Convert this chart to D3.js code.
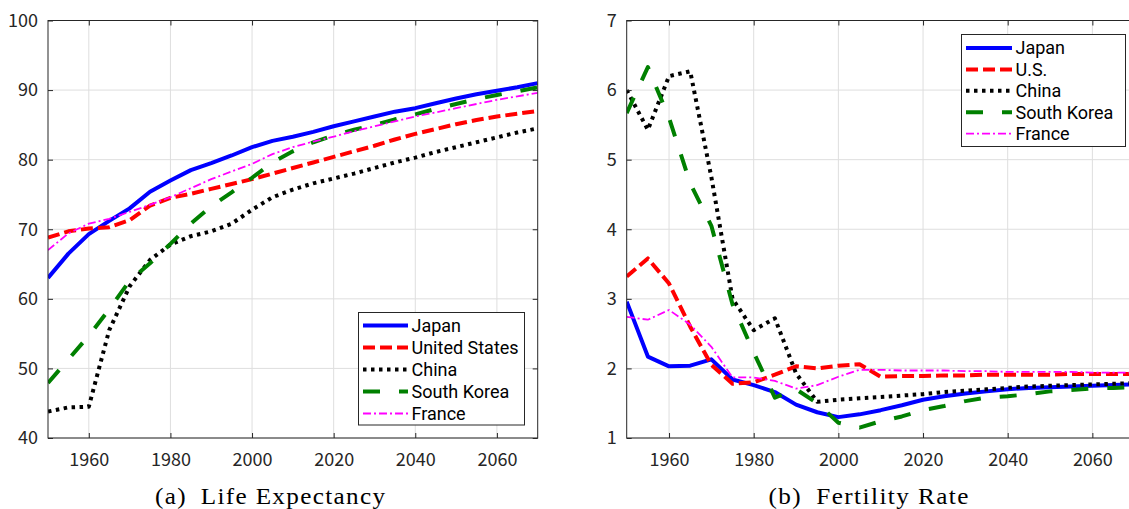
<!DOCTYPE html>
<html><head><meta charset="utf-8">
<script src="https://cdn.jsdelivr.net/npm/d3@7"></script>
<style>body{margin:0;background:#fff}svg{display:block}</style>
</head><body>
<svg id="c" width="1129" height="509"></svg>
<script>
const years = [1950,1955,1960,1965,1970,1975,1980,1985,1990,1995,2000,2005,2010,2015,2020,2025,2030,2035,2040,2045,2050,2055,2060,2065,2070];

const leJapan  = [63.0,66.5,69.3,71.2,73.0,75.4,77.0,78.5,79.5,80.6,81.8,82.7,83.3,84.0,84.8,85.5,86.2,86.9,87.4,88.1,88.8,89.4,89.9,90.4,91.0];
const leUS     = [68.8,69.7,70.1,70.3,71.3,73.4,74.5,75.1,75.8,76.5,77.2,78.0,78.8,79.6,80.4,81.2,82.0,82.9,83.7,84.4,85.1,85.7,86.2,86.6,87.0];
const leChina  = [43.8,44.4,44.5,55.5,61.8,65.6,67.8,69.0,69.7,70.8,72.8,74.6,75.7,76.6,77.3,78.0,78.8,79.6,80.3,81.1,81.8,82.5,83.2,83.9,84.5];
const leKorea  = [47.9,51.3,54.7,58.5,62.6,65.1,67.9,70.8,73.3,75.3,77.4,79.6,81.2,82.5,83.5,84.3,85.0,85.8,86.5,87.3,88.0,88.7,89.3,89.8,90.4];
const leFrance = [67.0,69.4,70.8,71.5,72.5,73.5,74.6,75.9,77.2,78.3,79.4,80.8,81.8,82.6,83.3,84.1,84.8,85.5,86.2,86.8,87.4,88.0,88.6,89.1,89.6];

const frJapan  = [2.96,2.17,2.03,2.04,2.13,1.84,1.76,1.66,1.48,1.37,1.30,1.34,1.40,1.47,1.55,1.60,1.64,1.67,1.70,1.72,1.73,1.74,1.75,1.76,1.77];
const frUS     = [3.32,3.58,3.22,2.60,2.05,1.78,1.80,1.91,2.03,2.00,2.04,2.06,1.88,1.89,1.89,1.90,1.90,1.91,1.91,1.91,1.91,1.92,1.92,1.92,1.92];
const frChina  = [6.00,5.43,6.20,6.27,4.75,3.00,2.55,2.72,1.93,1.52,1.55,1.57,1.59,1.61,1.63,1.66,1.68,1.70,1.72,1.74,1.75,1.76,1.77,1.78,1.79];
const frKorea  = [5.67,6.33,5.60,4.66,4.05,2.92,2.23,1.58,1.70,1.50,1.22,1.15,1.24,1.31,1.40,1.46,1.53,1.58,1.60,1.63,1.67,1.69,1.71,1.72,1.73];
const frFrance = [2.74,2.70,2.84,2.63,2.31,1.87,1.87,1.82,1.71,1.76,1.88,1.98,1.98,1.97,1.97,1.97,1.96,1.96,1.95,1.95,1.95,1.95,1.94,1.94,1.94];

const xTicks = [1960,1980,2000,2020,2040,2060];
const leTicks = [40,50,60,70,80,90,100];
const frTicks = [1,2,3,4,5,6,7];
const legendLeft  = ["Japan","United States","China","South Korea","France"];
const legendRight = ["Japan","U.S.","China","South Korea","France"];
const captionA = "(a)\u2002Life Expectancy";
const captionB = "(b)\u2002Fertility Rate";

const styles = [
  {color:"#0000ff", width:4,   dash:null},
  {color:"#ff0000", width:4,   dash:"12,5"},
  {color:"#000000", width:4,   dash:"3.5,4.5"},
  {color:"#008000", width:4,   dash:"17,19"},
  {color:"#ff00ff", width:1.8, dash:"8,3,2,3"}
];

const svg = d3.select("#c");
const AX = "#262626", GRID = "#dedede";
const FONT = "'Noto Sans CJK JP','Noto Sans',sans-serif";
const LFONT = "Roboto,'Noto Sans',sans-serif";

function panel(cfg, idx){
  const x = d3.scaleLinear().domain([1950,2070]).range([cfg.x0,cfg.x1]);
  const y = d3.scaleLinear().domain(cfg.ydom).range([cfg.yb,cfg.yt]);
  const g = svg.append("g");
  g.selectAll("line.gx").data(xTicks).join("line")
    .attr("x1",d=>x(d)).attr("x2",d=>x(d)).attr("y1",cfg.yt).attr("y2",cfg.yb)
    .attr("stroke",GRID).attr("stroke-width",1);
  g.selectAll("line.gy").data(cfg.yticks).join("line")
    .attr("x1",cfg.x0).attr("x2",cfg.x1).attr("y1",d=>y(d)).attr("y2",d=>y(d))
    .attr("stroke",GRID).attr("stroke-width",1);
  const cid = "clip"+idx;
  svg.append("clipPath").attr("id",cid).append("rect")
    .attr("x",cfg.x0).attr("y",cfg.yt).attr("width",cfg.x1-cfg.x0).attr("height",cfg.yb-cfg.yt);
  const lg = g.append("g").attr("clip-path",`url(#${cid})`);
  const line = d3.line().x((d,i)=>x(years[i])).y(d=>y(d));
  cfg.series.forEach((s,i)=>{
    const st = styles[i];
    lg.append("path").datum(s).attr("d",line).attr("fill","none")
      .attr("stroke",st.color).attr("stroke-width",st.width)
      .attr("stroke-dasharray",st.dash).attr("stroke-linejoin","round");
  });
  const styleAxis = sel => { sel.select(".domain").remove();
    sel.selectAll(".tick line").attr("stroke",AX);
    sel.selectAll("text").attr("fill",AX).attr("font-family",FONT).attr("font-size",18); };
  g.append("g").attr("transform",`translate(0,${cfg.yb})`)
    .call(d3.axisBottom(x).tickValues(xTicks).tickFormat(d3.format("d")).tickSizeInner(-5).tickSizeOuter(0).tickPadding(15)).call(styleAxis);
  g.append("g").attr("transform",`translate(0,${cfg.yt})`)
    .call(d3.axisTop(x).tickValues(xTicks).tickFormat("").tickSizeInner(-5).tickSizeOuter(0)).call(styleAxis);
  g.append("g").attr("transform",`translate(${cfg.x0},0)`)
    .call(d3.axisLeft(y).tickValues(cfg.yticks).tickFormat(d3.format("d")).tickSizeInner(-5).tickSizeOuter(0).tickPadding(10)).call(styleAxis);
  g.append("g").attr("transform",`translate(${cfg.x1},0)`)
    .call(d3.axisRight(y).tickValues(cfg.yticks).tickFormat("").tickSizeInner(-5).tickSizeOuter(0)).call(styleAxis);
  g.append("rect").attr("x",cfg.x0).attr("y",cfg.yt).attr("width",cfg.x1-cfg.x0).attr("height",cfg.yb-cfg.yt)
    .attr("fill","none").attr("stroke",AX).attr("stroke-width",1);
  const L = cfg.legend;
  const lgd = g.append("g");
  lgd.append("rect").attr("x",L.x0).attr("y",L.y0).attr("width",L.x1-L.x0).attr("height",L.y1-L.y0)
    .attr("fill","#fff").attr("stroke",AX).attr("stroke-width",1);
  cfg.labels.forEach((t,i)=>{
    const yy = L.r0 + i*L.dr, st = styles[i];
    lgd.append("line").attr("x1",L.s0).attr("x2",L.s1).attr("y1",yy).attr("y2",yy)
      .attr("stroke",st.color).attr("stroke-width",st.width).attr("stroke-dasharray",st.dash);
    lgd.append("text").attr("x",L.tx).attr("y",yy).attr("dy","0.36em")
      .attr("font-family",LFONT).attr("font-size",18).attr("fill","#000").text(t);
  });
  const sx = 1.12;
  svg.append("text").attr("transform",`translate(${cfg.capX},504) scale(${sx},1)`)
    .attr("font-family","'Liberation Serif','DejaVu Serif',serif").attr("font-size",22.5)
    .attr("fill","#000").attr("textLength",cfg.capW/sx).attr("lengthAdjust","spacing")
    .text(cfg.caption);
}

panel({x0:48, x1:537.7, yt:20.5, yb:438, ydom:[40,100], yticks:leTicks,
  series:[leJapan,leUS,leChina,leKorea,leFrance], labels:legendLeft,
  legend:{x0:358.5,y0:312.5,x1:524.5,y1:425,s0:363,s1:408,tx:411.5,r0:325.5,dr:22},
  caption:captionA, capX:155, capW:230},0);
panel({x0:626.7, x1:1134.7, yt:20.5, yb:438, ydom:[1,7], yticks:frTicks,
  series:[frJapan,frUS,frChina,frKorea,frFrance], labels:legendRight,
  legend:{x0:961.5,y0:34.5,x1:1125.5,y1:146.5,s0:966,s1:1012,tx:1015.5,r0:48,dr:21.4},
  caption:captionB, capX:768.5, capW:200},1);
</script>
</body></html>
